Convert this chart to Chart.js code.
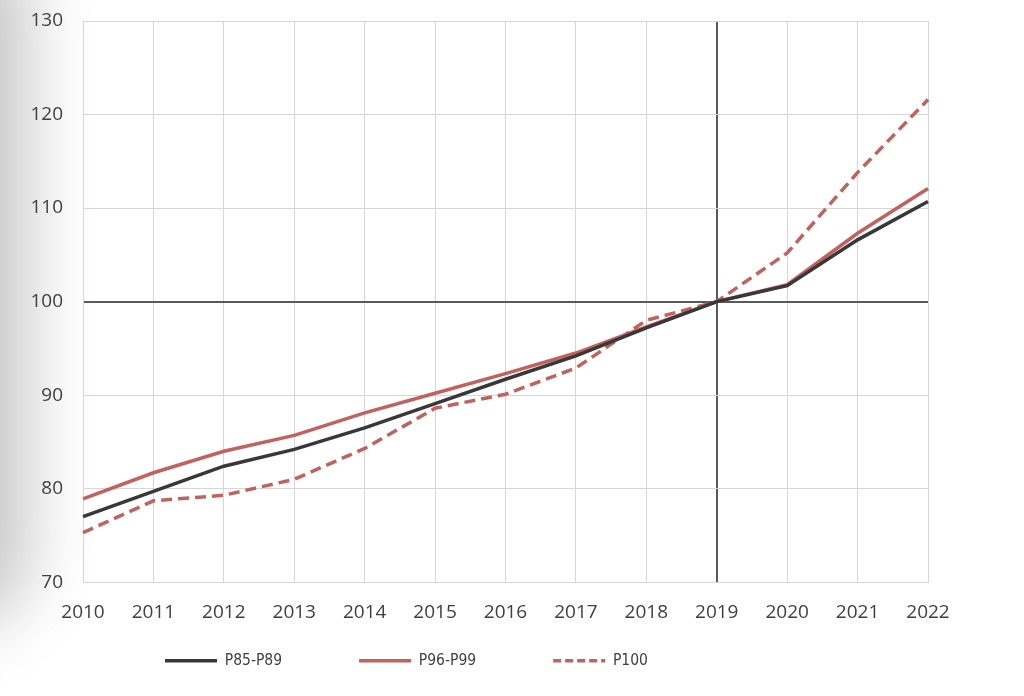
<!DOCTYPE html>
<html>
<head>
<meta charset="utf-8">
<script src="https://cdn.jsdelivr.net/npm/chart.js@4.4.0/dist/chart.umd.min.js"></script>
<style>
  html, body { margin:0; padding:0; background:#fff; overflow:hidden; }
  #wrap { position:relative; width:1024px; height:696px; }
  #shade { position:absolute; left:-80px; top:-40px; width:80px; height:640px;
           box-shadow:0 0 70px 25px rgba(0,0,0,0.24); border-radius:40px; }
  canvas { position:relative; }
</style>
</head>
<body>
<div id="wrap">
  <div id="shade"></div>
  <canvas id="lineChart" width="1024" height="696"></canvas>
</div>
<script>
// data
const years = ['2010','2011','2012','2013','2014','2015','2016','2017','2018','2019','2020','2021','2022'];
const p85 = [77.0, 79.7, 82.4, 84.2, 86.5, 89.1, 91.7, 94.2, 97.2, 100, 101.7, 106.6, 110.7];
const p96 = [78.9, 81.7, 84.0, 85.7, 88.1, 90.2, 92.3, 94.5, 97.3, 100, 101.8, 107.3, 112.1];
const p100 = [75.3, 78.7, 79.3, 81.0, 84.3, 88.6, 90.1, 92.9, 98.0, 100, 105.2, 113.8, 121.6];
const seriesNames = ['P85-P89', 'P96-P99', 'P100'];
const yTicks = [70, 80, 90, 100, 110, 120, 130];
const refYear = '2019';
const refValue = 100;

const dark = '#383838';
const red = '#c2625e';
const grid = '#d6d6d6';
const axisLine = '#5a5a5a';
const textCol = '#404040';
const tickFont = { family:'"Open Sans", sans-serif', size:19 };
const legendFont = { family:'"Liberation Sans Narrow", "DejaVu Sans Condensed", sans-serif', size:15.5 };

// move the legend where the reference has it (bottom edge kept so the clip still holds the items)
const legendNudge = {
  id:'legendNudge',
  afterLayout(chart){
    const lg = chart.legend;
    lg.left += 88; lg.right += 88;
    lg.top -= 67;
  }
};

new Chart(document.getElementById('lineChart'), {
  type:'line',
  data:{
    labels:years,
    datasets:[
      { label:seriesNames[0], data:p85, borderColor:dark, backgroundColor:dark, borderWidth:3.5, pointRadius:0, tension:0 },
      { label:seriesNames[1], data:p96, borderColor:red, backgroundColor:red, borderWidth:3.5, pointRadius:0, tension:0 },
      { label:seriesNames[2], data:p100, borderColor:red, backgroundColor:red, borderWidth:3.5, borderDash:[11,6], pointRadius:0, tension:0 }
    ]
  },
  options:{
    responsive:false,
    animation:false,
    layout:{ padding:{ top:21, right:96, bottom:0, left:0 } },
    plugins:{
      tooltip:{ enabled:false },
      legend:{
        position:'bottom',
        align:'start',
        maxHeight:53,
        labels:{
          usePointStyle:true,
          pointStyle:'line',
          pointStyleWidth:52,
          padding:77,
          color:textCol,
          font:legendFont,
          generateLabels:chart => Chart.defaults.plugins.legend.labels.generateLabels(chart).map(item => {
            const ds = chart.data.datasets[item.datasetIndex];
            item.lineWidth = 3.5;
            item.strokeStyle = ds.borderColor;
            item.lineDash = ds.borderDash ? [8,4] : [];
            return item;
          })
        }
      }
    },
    scales:{
      x:{
        type:'category',
        offset:false,
        grid:{
          drawTicks:false,
          color:ctx => years[ctx.index] === refYear ? axisLine : grid,
          lineWidth:ctx => years[ctx.index] === refYear ? 2 : 1
        },
        border:{ color:grid, width:1 },
        ticks:{ color:textCol, padding:19, maxRotation:0, autoSkip:false, font:tickFont }
      },
      y:{
        min:yTicks[0],
        max:yTicks[yTicks.length-1],
        afterBuildTicks:scale => { scale.ticks = yTicks.map(v => ({ value:v })); },
        afterFit:scale => { scale.width = 83; },
        grid:{
          drawTicks:true,
          tickLength:20,
          tickColor:'rgba(0,0,0,0)',
          color:ctx => ctx.tick && ctx.tick.value === refValue ? axisLine : grid,
          lineWidth:ctx => ctx.tick && ctx.tick.value === refValue ? 2 : 1
        },
        border:{ color:grid, width:1 },
        ticks:{ color:textCol, padding:0, font:tickFont }
      }
    }
  },
  plugins:[legendNudge]
});
</script>
</body>
</html>
